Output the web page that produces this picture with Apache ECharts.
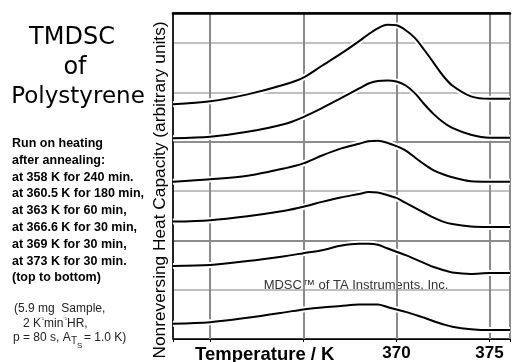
<!DOCTYPE html>
<html>
<head>
<meta charset="utf-8">
<title>TMDSC of Polystyrene</title>
<script src="https://cdn.jsdelivr.net/npm/echarts@6/dist/echarts.min.js"></script>
<style>
  html, body { margin: 0; padding: 0; background: #fff; }
  #chart { width: 513px; height: 362px; }
</style>
</head>
<body>
<div id="chart"></div>
<script>
// temperatures (K) at which the curves were read
const temps = [358, 360, 362, 364, 365, 366, 367, 368, 368.5, 369, 369.5, 370, 370.5, 371, 371.5, 372, 372.5, 373, 374, 375, 376.1];

// nonreversing heat capacity, arbitrary units, offset curves (top to bottom)
const run358 = [4.76, 4.82, 4.96, 5.16, 5.30, 5.54, 5.78, 6.04, 6.18, 6.30, 6.37, 6.36, 6.26, 6.10, 5.86, 5.60, 5.34, 5.14, 4.92, 4.87, 4.87];
const run3605 = [4.07, 4.10, 4.20, 4.36, 4.50, 4.68, 4.88, 5.08, 5.18, 5.23, 5.24, 5.22, 5.14, 4.98, 4.76, 4.56, 4.40, 4.28, 4.14, 4.08, 4.08];
const run363 = [3.19, 3.24, 3.31, 3.46, 3.56, 3.72, 3.86, 3.96, 4.01, 4.02, 3.98, 3.91, 3.82, 3.68, 3.54, 3.42, 3.34, 3.28, 3.20, 3.19, 3.19];
const run3666 = [2.38, 2.41, 2.49, 2.60, 2.68, 2.78, 2.87, 2.94, 2.98, 2.97, 2.92, 2.86, 2.76, 2.66, 2.56, 2.46, 2.38, 2.33, 2.28, 2.27, 2.27];
const run369 = [1.48, 1.50, 1.58, 1.68, 1.74, 1.80, 1.89, 1.93, 1.93, 1.91, 1.84, 1.77, 1.70, 1.62, 1.54, 1.46, 1.40, 1.35, 1.32, 1.34, 1.34];
const run373 = [0.31, 0.34, 0.43, 0.54, 0.60, 0.64, 0.67, 0.70, 0.70, 0.70, 0.65, 0.60, 0.55, 0.49, 0.43, 0.36, 0.30, 0.25, 0.20, 0.18, 0.18];

const runs = [run358, run3605, run363, run3666, run369, run373];
const xLabels = [370, 375];

const annealLines = [
  'Run on heating',
  'after annealing:',
  'at 358 K for 240 min.',
  'at 360.5 K for 180 min,',
  'at 363 K for 60 min,',
  'at 366.6 K for 30 min,',
  'at 369 K for 30 min,',
  'at 373 K for 30 min.',
  '(top to bottom)'
];

const myChart = echarts.init(document.getElementById('chart'));

const txt = (left, top, text, style) => ({
  type: 'text', left: left, top: top,
  style: Object.assign({ text: text, fill: '#000', fontFamily: 'Liberation Sans' }, style)
});

const graphics = [
  // title
  { type: 'text', x: 72, y: 38, style: { text: 'TMDSC', fill: '#000', fontFamily: 'DejaVu Sans', fontSize: 24, align: 'center', verticalAlign: 'middle' } },
  { type: 'text', x: 75, y: 68, style: { text: 'of', fill: '#000', fontFamily: 'DejaVu Sans', fontSize: 24, align: 'center', verticalAlign: 'middle' } },
  { type: 'text', x: 78, y: 97, style: { text: 'Polystyrene', fill: '#000', fontFamily: 'DejaVu Sans', fontSize: 23, align: 'center', verticalAlign: 'middle' } },
  // y axis title
  { type: 'text', x: 160, y: 190, rotation: Math.PI / 2,
    style: { text: 'Nonreversing Heat Capacity (arbitrary units)', fill: '#000', fontFamily: 'Liberation Sans', fontSize: 17.3, align: 'center', verticalAlign: 'middle' } },
  // x axis title
  txt(195, 345, 'Temperature / K', { fontSize: 18.5, fontWeight: 'bold' }),
  // watermark
  { type: 'text', x: 356, y: 285, style: { text: 'MDSC\u2122 of TA Instruments, Inc.', fill: '#333', fontFamily: 'Liberation Sans', fontSize: 13, align: 'center', verticalAlign: 'middle' } },
  // sample note
  txt(14, 303, '(5.9 mg  Sample,', { fontSize: 12, fill: '#222' }),
  txt(23, 318, '2 K', { fontSize: 12, fill: '#222' }),
  txt(40, 316, '\u207b\u00b9', { fontSize: 6, fill: '#222' }),
  txt(44, 318, 'min', { fontSize: 12, fill: '#222' }),
  txt(63, 316, '\u207b\u00b9', { fontSize: 6, fill: '#222' }),
  txt(67, 318, 'HR,', { fontSize: 12, fill: '#222' }),
  txt(13, 332, 'p = 80 s, A', { fontSize: 12, fill: '#222' }),
  txt(71, 336, 'T', { fontSize: 10, fill: '#222' }),
  txt(77, 342, 'S', { fontSize: 8, fill: '#222' }),
  txt(84, 332, '= 1.0 K)', { fontSize: 12, fill: '#222' })
];

// annealing description lines
annealLines.forEach((line, i) => {
  graphics.push(txt(12, 137 + i * 16.8, line, { fontSize: 12.5, fontWeight: 'bold' }));
});

// white halo under each curve, then the curve itself
const series = [];
runs.forEach((vals, k) => {
  const pts = temps.map((t, i) => [t, vals[i]]);
  series.push({
    type: 'line', smooth: 0.3, symbol: 'none', silent: true, z: 2,
    lineStyle: { color: '#fff', width: 6 },
    data: pts
  });
  series.push({
    name: 'run' + k, type: 'line', smooth: 0.3, symbol: 'none', z: 3,
    lineStyle: { color: '#000', width: 2 },
    data: pts
  });
});

const option = {
  animation: false,
  backgroundColor: '#fff',
  grid: { left: 173, right: 0, top: 13, bottom: 19, show: false },
  xAxis: [
    {
      type: 'value',
      min: 358,
      max: 376.1,
      splitNumber: 4,
      axisLine: { show: true, onZero: false, lineStyle: { color: '#000', width: 1 } },
      axisTick: { show: true, length: 3, lineStyle: { color: '#000' } },
      axisLabel: {
        margin: 6,
        fontFamily: 'Liberation Sans',
        fontSize: 17,
        fontWeight: 'bold',
        color: '#000',
        formatter: (v) => (xLabels.indexOf(v) >= 0 ? String(v) : '')
      },
      splitLine: { show: true, lineStyle: { color: '#8a8a8a', width: 2 } }
    },
    {
      // thick top border
      type: 'value',
      position: 'top',
      min: 358,
      max: 376.1,
      axisLine: { show: true, onZero: false, lineStyle: { color: '#000', width: 2.5 } },
      axisTick: { show: false },
      axisLabel: { show: false },
      splitLine: { show: false }
    }
  ],
  yAxis: {
    type: 'value',
    min: 0,
    max: 6.61,
    interval: 1,
    axisLine: { show: true, lineStyle: { color: '#000', width: 1.5 } },
    axisTick: { show: false },
    axisLabel: { show: false },
    splitLine: {
      show: true,
      lineStyle: {
        color: ['#000', '#aaa', '#666', '#aaa', '#666', '#aaa', '#aaa', '#000'],
        width: 1.5
      }
    }
  },
  graphic: graphics,
  series: series
};

myChart.setOption(option);
</script>
</body>
</html>
